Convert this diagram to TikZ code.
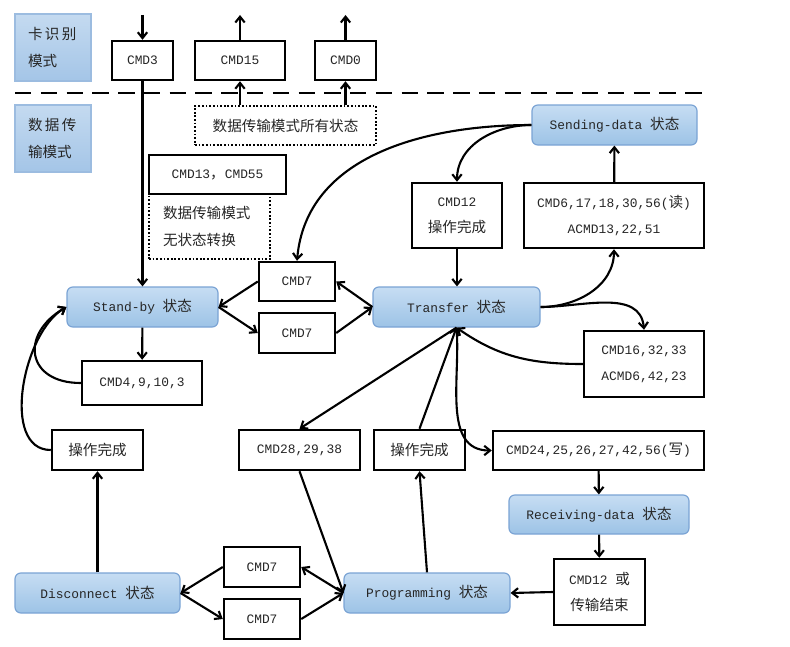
\documentclass[tikz,border=0pt]{standalone}
\usepackage{fontspec}
\setmainfont{Liberation Serif}
\setmonofont{Liberation Mono}
\newfontfamily\cjk[Scale=1.13]{Noto Sans CJK SC}
\newcommand{\zh}[1]{{\cjk #1}}
\newcommand{\px}{0.03cm}
\usetikzlibrary{arrows.meta}
\definecolor{statetop}{HTML}{C6DDF3}
\definecolor{statebot}{HTML}{9DC3E6}
\definecolor{stateline}{HTML}{7AA3D4}
\definecolor{modetop}{HTML}{C4DAF0}
\definecolor{modebot}{HTML}{A4C5E7}
\definecolor{modeline}{HTML}{9CBCE0}
\definecolor{ink}{HTML}{262626}

\begin{document}
\begin{tikzpicture}[
      x=\px, y=-\px,
      >={Straight Barb[length=5pt,width=8pt]},
      sz/.style 2 args={minimum width=#1*\px,minimum height=#2*\px},
      state/.style={draw=stateline,line width=1pt,rounded corners=5pt,top color=statetop,bottom color=statebot,inner sep=0pt,text=ink,font=\ttfamily\fontsize{11}{21}\selectfont},
      cmd/.style={draw,line width=2.1pt,fill=white,inner sep=0pt,align=center,text=ink,font=\ttfamily\fontsize{11}{22}\selectfont},
      note/.style={draw,line width=1.5pt,dash pattern=on 1.5pt off 1.6pt,fill=white,inner sep=0pt,text=ink,font=\ttfamily\fontsize{11}{23}\selectfont},
      mode/.style={draw=modeline,line width=1.5pt,top color=modetop,bottom color=modebot,inner ysep=0pt,inner xsep=13*\px,text width=50*\px,align=left,text=ink,font=\fontsize{11}{23}\selectfont},
      sep line/.style={line width=2pt,dash pattern=on 14pt off 8pt},
      link/.style={->,line width=1.8pt}
      ]
      \useasboundingbox (0,0) rectangle (790,646);
      % mode labels
      \node [mode,sz={76}{67}] (cardmode) at (53,47.5) {\zh{卡\,识\,别}\\\zh{模式}};
      \node [mode,sz={76}{67}] (datamode) at (53,138.5) {\zh{数\,据\,传}\\\zh{输模式}};
      % separator
      \coordinate (sepL) at (15,93);
      \coordinate (sepR) at (703,93);
      \draw [sep line] (sepL) -- (sepR);
      % card identification mode
      \node [cmd,sz={61}{39}] (cmd3) at (142.5,60.5) {CMD3};
      \node [cmd,sz={90}{39}] (cmd15) at (240,60.5) {CMD15};
      \node [cmd,sz={61}{39}] (cmd0) at (345.5,60.5) {CMD0};
      \coordinate (in3) at (142.5,15);
      \coordinate (out15) at (240,15);
      \coordinate (out0) at (345.5,15);
      \node [note,sz={181}{39}] (allstates) at (285.5,125.5) {\zh{数据传输模式所有状态}};
      % no state change
      \node [note,sz={121}{65},align=left,text width=93*\px,inner xsep=14*\px] (nochange) at (209.5,226.5) {\zh{数据传输模式}\\\zh{无状态转换}};
      \node [cmd,sz={137}{39}] (cmd13) at (217.5,174.5) {CMD13\zh{，}CMD55};
      % states
      \node [state,sz={151}{40}] (standby) at (142.5,307) {Stand-by \zh{状态}};
      \node [state,sz={167}{40}] (transfer) at (456.5,307) {Transfer \zh{状态}};
      \node [state,sz={165}{40}] (sending) at (614.5,125) {Sending-data \zh{状态}};
      \node [state,sz={180}{39}] (receiving) at (599,514.5) {Receiving-data \zh{状态}};
      \node [state,sz={166}{40}] (programming) at (427,593) {Programming \zh{状态}};
      \node [state,sz={165}{40}] (disconnect) at (97.5,593) {Disconnect \zh{状态}};
      % commands
      \node [cmd,sz={76}{39}] (cmd7a) at (297,281.5) {CMD7};
      \node [cmd,sz={76}{40}] (cmd7b) at (297,333) {CMD7};
      \node [cmd,sz={90}{65}] (cmd12) at (457,215.5) {CMD12\\\zh{操作完成}};
      \node [cmd,sz={180}{65}] (cmdread) at (614,215.5) {CMD6,17,18,30,56(\zh{读})\\ACMD13,22,51};
      \node [cmd,sz={120}{66}] (cmdlock) at (644,364) {CMD16,32,33\\ACMD6,42,23};
      \node [cmd,sz={120}{44}] (cmd4) at (142,383) {CMD4,9,10,3};
      \node [cmd,sz={91}{40}] (done1) at (97.5,450) {\zh{操作完成}};
      \node [cmd,sz={121}{40}] (cmd28) at (299.5,450) {CMD28,29,38};
      \node [cmd,sz={91}{40}] (done2) at (419.5,450) {\zh{操作完成}};
      \node [cmd,sz={211}{39}] (cmdwrite) at (598.5,450.5) {CMD24,25,26,27,42,56(\zh{写})};
      \node [cmd,sz={91}{66}] (cmd12b) at (599.5,592) {CMD12 \zh{或}\\\zh{传输结束}};
      \node [cmd,sz={76}{40}] (cmd7c) at (262,567) {CMD7};
      \node [cmd,sz={76}{40}] (cmd7d) at (262,619) {CMD7};
      % edges
      % card identification
      \draw [link] (in3) -- (cmd3);
      \draw [link] (cmd15) -- (out15);
      \draw [link] (cmd0) -- (out0);
      \draw [link] (allstates.north -| cmd15) -- (cmd15);
      \draw [link] (allstates.north -| cmd0) -- (cmd0);
      \draw [link] (cmd3) -- (standby);
      % sending-data
      \draw [link] (sending.west) to [out=180,in=90] (cmd12.north);
      \draw [link] (sending.west) to [out=180,in=85] (cmd7a.north);
      \draw [link] (cmdread) -- (sending);
      % transfer
      \draw [link] (cmd12.south) -- (cmd12.south |- transfer.north);
      \draw [link] (transfer.east) to [out=0,in=-90] (cmdread.south);
      \draw [link] (transfer.east) to [out=0,in=95] (cmdlock.north);
      \draw [link] (cmdlock.west) to [out=180,in=-35] (transfer.south);
      \draw [link] (transfer.south) -- (cmd28.north);
      \draw [link] (done2.north) -- (transfer.south);
      \draw [link] (transfer.south) to [out=-85,in=180] (cmdwrite.west);
      % stand-by
      \draw [link] (cmd7a.west) -- (standby.east);
      \draw [link] (standby.east) -- (cmd7b.west);
      \draw [link] (cmd7b.east) -- (transfer.west);
      \draw [link] (transfer.west) -- (cmd7a.east);
      \draw [link] (standby) -- (cmd4);
      \draw [link] (cmd4.west) to [out=180,in=210,looseness=1.8] (standby.west);
      \draw [link] (done1.west) to [out=180,in=210,looseness=0.9] (standby.west);
      % disconnect
      \draw [link] (disconnect) -- (done1);
      \draw [link] (cmd7c.west) -- (disconnect.east);
      \draw [link] (disconnect.east) -- (cmd7d.west);
      \draw [link] (cmd7d.east) -- (programming.west);
      \draw [link] (programming.west) -- (cmd7c.east);
      % programming
      \draw [link] (cmd28.south) -- (programming.west);
      \draw [link] (programming.north) -- (done2.south);
      \draw [link] (cmdwrite) -- (receiving);
      \draw [link] (receiving) -- (cmd12b);
      \draw [link] (cmd12b.west) -- (programming.east);
\end{tikzpicture}
\end{document}
